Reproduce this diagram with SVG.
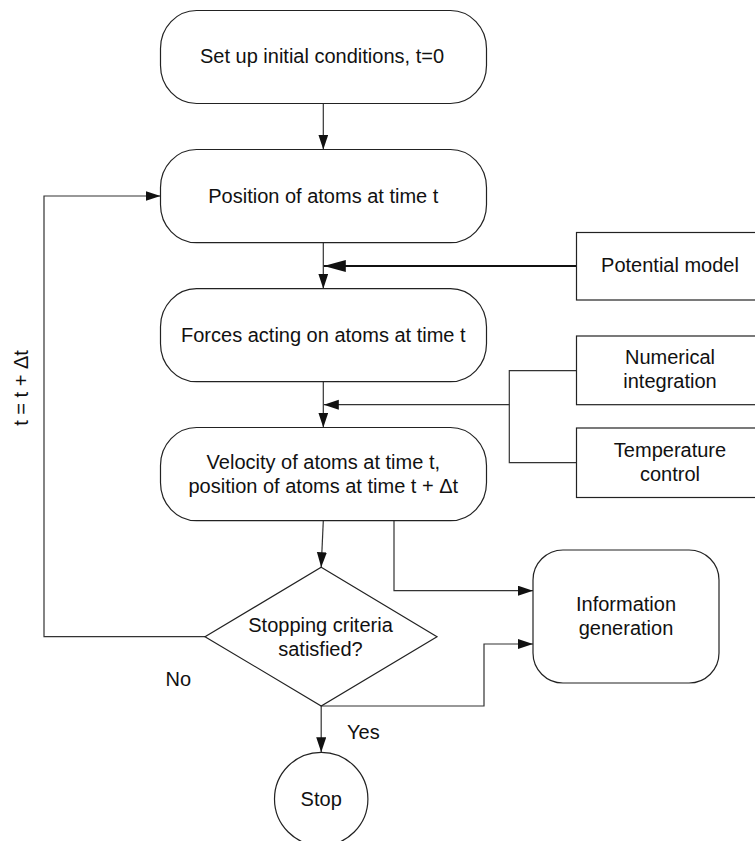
<svg xmlns="http://www.w3.org/2000/svg" width="755" height="841" viewBox="0 0 755 841">
<style>
  .box { fill: #fff; stroke: #222; stroke-width: 1.2; }
  .t { font-family: "Liberation Sans", Arial, sans-serif; font-size: 20px; fill: #111; text-anchor: middle; }
  .tl { font-family: "Liberation Sans", Arial, sans-serif; font-size: 20px; fill: #111; }
  .c { fill: none; stroke: #333; stroke-width: 1.2; }
  .thick { fill: none; stroke: #111; stroke-width: 2.2; }
</style>
<defs>
  <marker id="ah" markerUnits="userSpaceOnUse" markerWidth="16" markerHeight="12" refX="15" refY="5" orient="auto">
    <path d="M0,0 L15,5 L0,10 Z" fill="#111"/>
  </marker>
  <marker id="ahb" markerUnits="userSpaceOnUse" markerWidth="23" markerHeight="14" refX="22" refY="6" orient="auto">
    <path d="M0,0 L22,6 L0,12 Z" fill="#111"/>
  </marker>
</defs>
<rect width="755" height="841" fill="#fff"/>

<g id="connectors">
  <line class="c" x1="323.3" y1="103.5" x2="323.3" y2="149.5" marker-end="url(#ah)"/>
  <line class="c" x1="323.3" y1="242.7" x2="323.3" y2="288.7" marker-end="url(#ah)"/>
  <line class="thick" x1="576.5" y1="266" x2="323.8" y2="266" marker-end="url(#ahb)"/>
  <line class="c" x1="323.3" y1="381.7" x2="323.3" y2="427.5" marker-end="url(#ah)"/>
  <polyline class="c" points="576.5,370.7 509.3,370.7 509.3,462.7 576.5,462.7"/>
  <line class="c" x1="509.3" y1="404.7" x2="323.8" y2="404.7" marker-end="url(#ah)"/>
  <line class="c" x1="323.3" y1="520.7" x2="321.2" y2="567.3" marker-end="url(#ah)"/>
  <polyline class="c" points="394,520.7 394,590.7 533,590.7" marker-end="url(#ah)"/>
  <polyline class="c" points="321.2,706 484,706 484,644 533,644" marker-end="url(#ah)"/>
  <line class="c" x1="321.2" y1="706" x2="321.2" y2="752.3" marker-end="url(#ah)"/>
  <polyline class="c" points="205,636.7 44,636.7 44,196 160.5,196" marker-end="url(#ah)"/>
</g>

<g id="labels">
  <text class="tl" x="165.5" y="686">No</text>
  <text class="tl" x="347" y="739">Yes</text>
  <text class="t" transform="translate(27.5,388) rotate(-90)">t = t + Δt</text>
</g>

<g id="n-setup">
  <rect class="box" x="160.5" y="10.5" width="326" height="93" rx="36" ry="38"/>
  <text class="t" x="322" y="63">Set up initial conditions, t=0</text>
</g>
<g id="n-position">
  <rect class="box" x="160.5" y="149.5" width="326" height="93.2" rx="36" ry="38"/>
  <text class="t" x="323.3" y="203">Position of atoms at time t</text>
</g>
<g id="n-forces">
  <rect class="box" x="160.5" y="288.7" width="326" height="93" rx="36" ry="38"/>
  <text class="t" x="323.3" y="342">Forces acting on atoms at time t</text>
</g>
<g id="n-velocity">
  <rect class="box" x="160.5" y="427.5" width="326" height="93.2" rx="36" ry="38"/>
  <text class="t" x="323.3" y="469">Velocity of atoms at time t,</text>
  <text class="t" x="323.3" y="493">position of atoms at time t + Δt</text>
</g>
<g id="n-potential">
  <rect class="box" x="576.5" y="232.5" width="188" height="67.5"/>
  <text class="t" x="670" y="272">Potential model</text>
</g>
<g id="n-numerical">
  <rect class="box" x="576.5" y="336" width="188" height="68.7"/>
  <text class="t" x="670" y="364">Numerical</text>
  <text class="t" x="670" y="388">integration</text>
</g>
<g id="n-temperature">
  <rect class="box" x="576.5" y="428" width="188" height="69.5"/>
  <text class="t" x="670" y="457">Temperature</text>
  <text class="t" x="670" y="481">control</text>
</g>
<g id="n-decision">
  <polygon class="box" points="321.2,567.3 437,636.7 321.2,706 205,636.7"/>
  <text class="t" x="320.5" y="632">Stopping criteria</text>
  <text class="t" x="320.5" y="656">satisfied?</text>
</g>
<g id="n-info">
  <rect class="box" x="533" y="550" width="186" height="133" rx="30" ry="30"/>
  <text class="t" x="626" y="611">Information</text>
  <text class="t" x="626" y="635">generation</text>
</g>
<g id="n-stop">
  <circle class="box" cx="321.2" cy="799" r="46.7"/>
  <text class="t" x="321.2" y="806">Stop</text>
</g>
</svg>
